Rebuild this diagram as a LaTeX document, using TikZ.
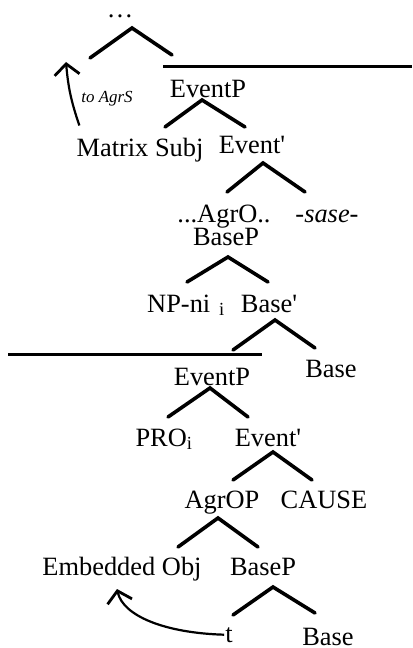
\documentclass[tikz,border=0pt]{standalone}
\usepackage{fontspec}
\setmainfont{Liberation Serif}
\usetikzlibrary{arrows.meta}

\begin{document}
\begin{tikzpicture}[
  x=1bp, y=-1bp,
  cat/.style={inner sep=0pt, anchor=base, font=\fontsize{26.5}{30}\selectfont},
  lbl/.style={inner sep=0pt, anchor=base, font=\fontsize{17}{20}\selectfont\itshape},
  brn/.style={line width=3.6bp, line cap=round},
  bar/.style={line width=3bp},
  mv/.style={line width=2.2bp, -{Straight Barb[length=11bp,width=25bp,line width=2.8bp]}},
]
\useasboundingbox (0,0) rectangle (412,648);

% upper clause
\node[cat, text height=4bp] (dots) at (120,18) {\dots};
\node[cat] (evp) at (208,98) {EventP};
\node[cat] (msubj) at (140,157) {Matrix Subj};
\node[cat] (evbar) at (252,154) {Event\textquotesingle};
\node[cat] (agro) at (224,222) {...AgrO..};
\node[cat, font=\fontsize{26.5}{30}\selectfont\itshape] (sase) at (327,222) {-sase-};
\node[cat] (basep) at (226,245) {BaseP};
\node[cat] (npni) at (186,312) {NP-ni\,\,\textsubscript{i}};
\node[cat] (basebar) at (269,312) {Base\textquotesingle};
\node[cat] (base) at (331,377) {Base};

% embedded clause
\node[cat] (evp2) at (212,385) {EventP};
\node[cat] (pro) at (164,446) {PRO\textsubscript{i}};
\node[cat] (evbar2) at (268,446) {Event\textquotesingle};
\node[cat] (agrop) at (222,508) {AgrOP};
\node[cat] (cause) at (324,508) {CAUSE};
\node[cat] (eobj) at (122,575) {Embedded Obj};
\node[cat] (basep2) at (263,575) {BaseP};
\node[cat] (trace) at (229,642) {t};
\node[cat] (base2) at (328,645) {Base};

% branches
\draw[brn] ([xshift=12bp,yshift=-10bp]dots.base) +(-42,30) -- +(0,0) -- +(40,27);
\draw[brn] ([xshift=-6bp,yshift=-2bp]evp.base) +(-37,27) -- +(0,0) -- +(43,27);
\draw[brn] ([xshift=11bp,yshift=-9bp]evbar.base) +(-36,29) -- +(0,0) -- +(42,29);
\draw[brn] ([xshift=2bp,yshift=-12bp]basep.base) +(-41,25) -- +(0,0) -- +(40,25);
\draw[brn] ([xshift=6bp,yshift=-8bp]basebar.base) +(-42,30) -- +(0,0) -- +(40,28);
\draw[brn] ([xshift=-2bp,yshift=-3bp]evp2.base) +(-42,29) -- +(0,0) -- +(38,29);
\draw[brn] ([xshift=5bp,yshift=-6bp]evbar2.base) +(-40,28) -- +(0,0) -- +(39,28);
\draw[brn] ([xshift=-4bp,yshift=-10bp]agrop.base) +(-40,29) -- +(0,0) -- +(40,29);
\draw[brn] ([xshift=10bp,yshift=-12bp]basep2.base) +(-40,28) -- +(0,0) -- +(42,26);

% clause boundaries
\draw[bar] (163,67) -- (412,67);
\draw[bar] (8,354) -- (262,354);

% movement
\coordinate (agrs) at (66,62);
\coordinate (eobjin) at (117,589);
\draw[mv] ([xshift=3bp,yshift=13bp]msubj.north west) to[bend left=7] (agrs);
\node[lbl] (toagrs) at (107,103) {to AgrS};
\draw[mv] ([xshift=-1bp]trace.west) .. controls (165,633) and (123,616) .. (eobjin);

\end{tikzpicture}
\end{document}
